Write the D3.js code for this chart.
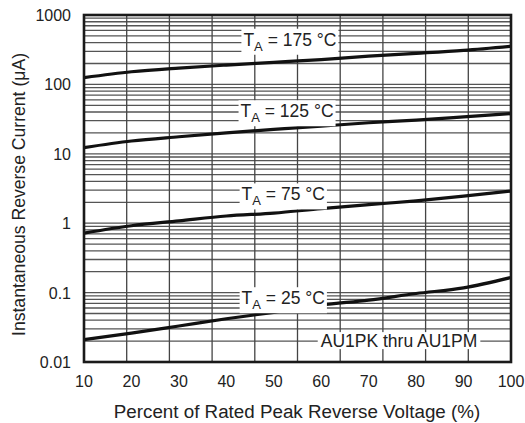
<!DOCTYPE html>
<html>
<head>
<meta charset="utf-8">
<script src="https://cdn.jsdelivr.net/npm/d3@7"></script>
<style>
  body { margin: 0; background: #fff; }
  svg text { font-family: "Liberation Sans", Arial, Helvetica, sans-serif; fill: #222; }
</style>
</head>
<body>
<svg id="chart" width="525" height="423"></svg>
<script>
const voltagePct = [10, 20, 30, 40, 50, 60, 70, 80, 90, 100];
const current25 = [0.021, 0.026, 0.033, 0.042, 0.052, 0.066, 0.078, 0.097, 0.117, 0.165];
const current75 = [0.72, 0.92, 1.08, 1.27, 1.4, 1.62, 1.85, 2.1, 2.45, 2.9];
const current125 = [12.3, 15.3, 17.6, 20, 22.5, 25, 28, 30.5, 34, 38];
const current175 = [125, 152, 172, 190, 208, 228, 255, 280, 310, 355];

const xTicks = [10, 20, 30, 40, 50, 60, 70, 80, 90, 100];
const yTicks = [0.01, 0.1, 1, 10, 100, 1000];
const yTickLabels = ['0.01', '0.1', '1', '10', '100', '1000'];
// the printed grid has 10 columns while the axis has 9 steps
const xGrid = [10, 19, 28, 37, 46, 55, 64, 73, 82, 91, 100];

const curves = [
  { temp: '175', values: current175, labelX: 53.4, labelY: 440 },
  { temp: '125', values: current125, labelX: 52.8, labelY: 41 },
  { temp: '75', values: current75, labelX: 52, labelY: 2.6 },
  { temp: '25', values: current25, labelX: 52, labelY: 0.083 }
];

const svg = d3.select('#chart');
const margin = { left: 84, right: 14, top: 15, bottom: 61 };
const width = 525, height = 423;

const x = d3.scaleLinear().domain([10, 100]).range([margin.left, width - margin.right]);
const y = d3.scaleLog().domain([0.01, 1000]).range([height - margin.bottom, margin.top]);

// minor log grid
const yGrid = [];
for (let e = -2; e < 3; e++) {
  for (let m = 2; m <= 9; m++) yGrid.push(m * Math.pow(10, e));
}
yTicks.forEach(v => yGrid.push(v));

const grid = svg.append('g');
grid.selectAll('.hg').data(yGrid).enter().append('line')
  .attr('x1', x(10)).attr('x2', x(100))
  .attr('y1', d => y(d)).attr('y2', d => y(d))
  .attr('stroke', '#555').attr('stroke-width', 1.3);
grid.selectAll('.vg').data(xGrid).enter().append('line')
  .attr('x1', d => x(d)).attr('x2', d => x(d))
  .attr('y1', y(1000)).attr('y2', y(0.01))
  .attr('stroke', '#444').attr('stroke-width', 1.3);

// curves
const line = d3.line()
  .x((d, i) => x(voltagePct[i]))
  .y(d => y(d))
  .curve(d3.curveMonotoneX);

svg.append('g').selectAll('path').data(curves).enter().append('path')
  .attr('d', d => line(d.values))
  .attr('fill', 'none')
  .attr('stroke', '#111')
  .attr('stroke-width', 3.2);

// labels with white background
function boxedLabel(cx, cy, build, padX, padTop, padBot) {
  const g = svg.append('g');
  const rect = g.append('rect').attr('fill', '#fff');
  const t = g.append('text').attr('x', cx).attr('y', cy).attr('text-anchor', 'middle')
    .attr('font-size', 17.5);
  build(t);
  const b = t.node().getBBox();
  rect.attr('x', b.x - padX).attr('y', b.y - padTop)
    .attr('width', b.width + 2 * padX).attr('height', b.height + padTop + padBot);
}

curves.forEach(c => {
  boxedLabel(x(c.labelX), y(c.labelY) + 6, t => {
    t.append('tspan').text('T');
    t.append('tspan').attr('font-size', 13).attr('dy', 5).text('A');
    t.append('tspan').attr('dy', -5).text(' = ' + c.temp + ' °C');
  }, 2, 1, 1);
});

boxedLabel(x(76.4), y(0.02) + 6, t => t.text('AU1PK thru AU1PM'), 3, -1, -2);

// frame
svg.append('rect')
  .attr('x', x(10)).attr('y', y(1000))
  .attr('width', x(100) - x(10)).attr('height', y(0.01) - y(1000))
  .attr('fill', 'none').attr('stroke', '#1a1a1a').attr('stroke-width', 2.6);

// tick labels
svg.append('g').selectAll('text').data(xTicks).enter().append('text')
  .attr('x', d => x(d)).attr('y', y(0.01) + 25)
  .attr('text-anchor', 'middle').attr('font-size', 16)
  .text(d => d);

svg.append('g').selectAll('text').data(yTicks).enter().append('text')
  .attr('x', x(10) - 13).attr('y', d => y(d) + 6)
  .attr('text-anchor', 'end').attr('font-size', 16)
  .text((d, i) => yTickLabels[i]);

// axis titles
svg.append('text')
  .attr('x', 297).attr('y', 418)
  .attr('text-anchor', 'middle').attr('font-size', 18.8)
  .text('Percent of Rated Peak Reverse Voltage (%)');

svg.append('text')
  .attr('transform', `translate(25, ${(y(1000) + y(0.01)) / 2 + 6}) rotate(-90)`)
  .attr('text-anchor', 'middle').attr('font-size', 17.6)
  .text('Instantaneous Reverse Current (μA)');
</script>
</body>
</html>
